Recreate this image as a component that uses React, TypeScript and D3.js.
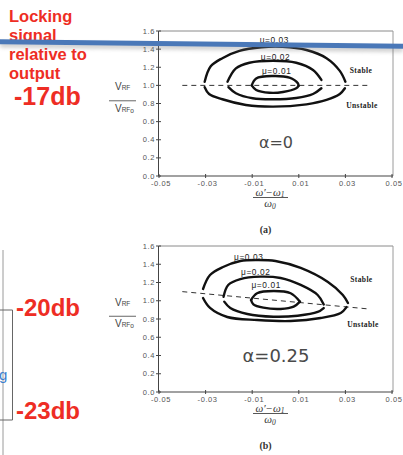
import React from "react";
import * as d3 from "d3";

type P = [number, number];

const yTicks = [0, 0.2, 0.4, 0.6, 0.8, 1.0, 1.2, 1.4, 1.6];
const xTicks = [-0.05, -0.03, -0.01, 0.01, 0.03, 0.05];
const xTickLabels = ["-0.05", "-0.03", "-0.01", "0.01", "0.03", "0.05"];
const muLabels = ["\u03bc=0.03", "\u03bc=0.02", "\u03bc=0.01"];

// panel (a), alpha = 0
const a03Stable: P[] = [[-0.0304, 1.04], [-0.0278, 1.21], [-0.0228, 1.30], [-0.0155, 1.38], [-0.006, 1.42], [0.003, 1.425], [0.0133, 1.39], [0.0219, 1.30], [0.0276, 1.16], [0.030, 1.04]];
const a03Unstable: P[] = [[-0.0304, 0.98], [-0.0285, 0.905], [-0.0228, 0.847], [-0.0127, 0.784], [-0.001, 0.765], [0.0133, 0.791], [0.0219, 0.839], [0.0276, 0.905], [0.0298, 0.968]];
const a02Stable: P[] = [[-0.0206, 1.04], [-0.017, 1.188], [-0.0112, 1.25], [-0.001, 1.272], [0.0089, 1.25], [0.0161, 1.17], [0.0197, 1.06]];
const a02Unstable: P[] = [[-0.0202, 0.98], [-0.017, 0.913], [-0.0098, 0.858], [-0.001, 0.847], [0.0089, 0.861], [0.0161, 0.905], [0.0197, 0.968]];
const a01Stable: P[] = [[-0.0102, 1.0], [-0.0083, 1.077], [-0.001, 1.103], [0.006, 1.085], [0.0096, 1.023], [0.0099, 0.995]];
const a01Unstable: P[] = [[0.0099, 0.995], [0.0089, 0.968], [0.0032, 0.927], [-0.0026, 0.919], [-0.0083, 0.949], [-0.0102, 1.0]];
const aDashed: P[] = [[-0.04, 1.0], [0.04, 1.0]];

// panel (b), alpha = 0.25
const b03Stable: P[] = [[-0.0311, 1.129], [-0.0281, 1.282], [-0.0225, 1.370], [-0.0151, 1.436], [-0.0078, 1.447], [0.0, 1.436], [0.0108, 1.359], [0.0225, 1.205], [0.0289, 1.063], [0.0311, 0.975]];
const b03Unstable: P[] = [[0.0305, 0.93], [0.028, 0.866], [0.0194, 0.811], [0.0065, 0.778], [-0.0078, 0.789], [-0.0207, 0.822], [-0.0281, 0.921], [-0.0311, 1.03]];
const b02Stable: P[] = [[-0.0223, 1.044], [-0.0203, 1.173], [-0.0151, 1.238], [-0.0065, 1.264], [0.0022, 1.249], [0.0108, 1.173], [0.0181, 1.063], [0.0207, 0.96]];
const b02Unstable: P[] = [[0.0207, 0.92], [0.0181, 0.877], [0.0095, 0.836], [-0.0009, 0.825], [-0.0121, 0.855], [-0.0194, 0.921], [-0.022, 0.99]];
const b01Stable: P[] = [[-0.0105, 1.008], [-0.0079, 1.082], [-0.0007, 1.107], [0.0065, 1.082], [0.0105, 0.99]];
const b01Unstable: P[] = [[0.0105, 0.99], [0.0078, 0.935], [0.0022, 0.91], [-0.0052, 0.924], [-0.0095, 0.961], [-0.0105, 1.008]];
const bDashed: P[] = [[-0.04, 1.10], [0.04, 0.91]];

const annotLines = ["Locking", "signal", "relative to", "output"];
const dbLabels = ["-17db", "-20db", "-23db"];

const x = d3.scaleLinear().domain([-0.05, 0.05]).range([159, 392]);

interface PanelProps {
  y0: number;
  y1: number;
  curves: P[][];
  dashed: P[];
  alpha: string;
  alphaSize: number;
  alphaY: number;
  tag: string;
  muPos: P[];
  stableY: number;
  unstableY: number;
  labelShift: number;
}

function Panel(p: PanelProps) {
  const y = d3.scaleLinear().domain([0, 1.6]).range([p.y0, p.y1]);
  const line = d3
    .line<P>()
    .x((d) => x(d[0]))
    .y((d) => y(d[1]))
    .curve(d3.curveCatmullRom.alpha(0.5));
  const straight = d3
    .line<P>()
    .x((d) => x(d[0]))
    .y((d) => y(d[1]));
  const xl = x(-0.05);
  const xr = x(0.05);
  const fx = 270;
  return (
    <g>
      {/* frame */}
      <line x1={xl} x2={xr + 1} y1={y(1.6)} y2={y(1.6)} stroke="#8a8a8a" strokeWidth={1} />
      <line x1={xr + 1} x2={xr + 1} y1={y(1.6)} y2={y(0)} stroke="#9a9a9a" strokeWidth={1} />
      {/* axes */}
      <line x1={xl - 0.5} x2={xl - 0.5} y1={y(1.6)} y2={y(0)} stroke="#444" strokeWidth={1} />
      <line x1={xl - 0.5} x2={xr + 1} y1={y(0)} y2={y(0)} stroke="#444" strokeWidth={1.2} />
      {yTicks.map((t) => (
        <g key={"y" + t}>
          <line x1={xl - 3} x2={xl + 2} y1={y(t)} y2={y(t)} stroke="#444" strokeWidth={1} />
          <text
            x={xl - 4}
            y={y(t) + 2.6}
            textAnchor="end"
            fontSize={7.5}
            letterSpacing={0.6}
            fill="#555"
            fontFamily="Liberation Sans, Arial, sans-serif"
          >
            {t.toFixed(1)}
          </text>
        </g>
      ))}
      {xTicks.map((t, i) => (
        <g key={"x" + t}>
          <line x1={x(t)} x2={x(t)} y1={y(0) - 2} y2={y(0) + 2} stroke="#444" strokeWidth={1} />
          <text
            x={x(t) + 2}
            y={y(0) + 9.5}
            textAnchor="middle"
            fontSize={7.5}
            letterSpacing={0.6}
            fill="#555"
            fontFamily="Liberation Sans, Arial, sans-serif"
          >
            {xTickLabels[i]}
          </text>
        </g>
      ))}
      {/* dashed reference */}
      <path d={straight(p.dashed) || ""} fill="none" stroke="#333" strokeWidth={1} strokeDasharray="5,4" />
      {/* curves */}
      {p.curves.map((c, i) => (
        <path key={i} d={line(c) || ""} fill="none" stroke="#111" strokeWidth={2.4} strokeLinecap="round" />
      ))}
      {/* mu labels */}
      {muLabels.map((m, i) => (
        <text
          key={m}
          x={x(p.muPos[i][0])}
          y={y(p.muPos[i][1])}
          textAnchor="middle"
          fontSize={8.3}
          letterSpacing={0.6}
          fill="#222"
          fontFamily="Liberation Sans, Arial, sans-serif"
        >
          {m}
        </text>
      ))}
      <text x={361 + p.labelShift} y={p.stableY} textAnchor="middle" fontSize={7.5} fontWeight="bold" letterSpacing={0.4} fill="#222" fontFamily="Liberation Serif, Times New Roman, serif">
        Stable
      </text>
      <text x={362 + p.labelShift * 2.5} y={p.unstableY} textAnchor="middle" fontSize={7.5} fontWeight="bold" letterSpacing={0.4} fill="#222" fontFamily="Liberation Serif, Times New Roman, serif">
        Unstable
      </text>
      {/* alpha */}
      <text x={x(0.0002)} y={p.alphaY} textAnchor="middle" fontSize={p.alphaSize} fill="#4a4a4a" fontFamily="DejaVu Sans, sans-serif">
        {p.alpha}
      </text>
      {/* x axis label fraction */}
      <text x={fx} y={y(0) + 19.5} textAnchor="middle" fontSize={11} fontStyle="italic" fill="#333" fontFamily="Liberation Serif, serif">
        {"\u03c9\u2032\u2212\u03c9"}
        <tspan fontSize={7.5} dy={1.5}>1</tspan>
      </text>
      <line x1={fx - 17} x2={fx + 18} y1={y(0) + 21.5} y2={y(0) + 21.5} stroke="#444" strokeWidth={0.9} />
      <text x={fx} y={y(0) + 31} textAnchor="middle" fontSize={11} fontStyle="italic" fill="#333" fontFamily="Liberation Serif, serif">
        {"\u03c9"}
        <tspan fontSize={7.5} dy={1.5}>0</tspan>
      </text>
      <text x={265.5} y={y(0) + 57} textAnchor="middle" fontSize={10} fontWeight="bold" fill="#333" fontFamily="Liberation Serif, serif">
        {p.tag}
      </text>
      {/* y axis label */}
      <text x={115} y={y(0.88) - 6} fontSize={10} fill="#444" fontFamily="Liberation Sans, Arial, sans-serif">
        V<tspan fontSize={6.5}>RF</tspan>
      </text>
      <line x1={109} x2={136} y1={y(0.83)} y2={y(0.83)} stroke="#555" strokeWidth={0.9} />
      <text x={115} y={y(0.83) + 11} fontSize={10} fill="#444" fontFamily="Liberation Sans, Arial, sans-serif">
        V<tspan fontSize={6.5}>RF</tspan>
        <tspan fontSize={6.5} dy={1}>o</tspan>
      </text>
    </g>
  );
}

export default function App() {
  const red = "#ee2d24";
  return (
    <svg
      width={403}
      height={455}
      viewBox="0 0 403 455"
      style={{ position: "fixed", left: 0, top: 0, background: "#fff", display: "block" }}
    >
      <defs>
        <filter id="shadow" x="-10%" y="-200%" width="120%" height="500%">
          <feGaussianBlur stdDeviation="2.2" />
        </filter>
      </defs>
      <rect x={0} y={0} width={403} height={455} fill="#fff" />

      <Panel
        y0={176}
        y1={31}
        curves={[a03Stable, a03Unstable, a02Stable, a02Unstable, a01Stable, a01Unstable]}
        dashed={aDashed}
        alpha={"\u03b1=0"}
        alphaSize={16}
        alphaY={148}
        tag="(a)"
        muPos={[[-0.0005, 1.47], [0.0, 1.28], [0.0005, 1.13]]}
        stableY={73}
        unstableY={108}
        labelShift={0}
      />
      <Panel
        y0={392}
        y1={246}
        curves={[b03Stable, b03Unstable, b02Stable, b02Unstable, b01Stable, b01Unstable]}
        dashed={bDashed}
        alpha={"\u03b1=0.25"}
        alphaSize={18}
        alphaY={362}
        tag="(b)"
        muPos={[[-0.0115, 1.45], [-0.0085, 1.28], [-0.004, 1.14]]}
        stableY={282}
        unstableY={327}
        labelShift={0.4}
      />

      {/* left-side slide elements */}
      <line x1={3} x2={3} y1={250} y2={455} stroke="#9a9a9a" strokeWidth={1} />
      <polyline points="0,310 12.5,310 12.5,420 0,420" fill="none" stroke="#666" strokeWidth={1} />
      <text x={-1} y={380} fontSize={15} fill="#3b7fcf" fontFamily="Liberation Sans, Arial, sans-serif">
        g
      </text>

      {annotLines.map((t, i) => (
        <text key={t} x={9} y={21.5 + i * 19} fontSize={16.5} fontWeight="bold" fill={red} fontFamily="Liberation Sans, Arial, sans-serif">
          {t}
        </text>
      ))}
      <text x={14} y={105} fontSize={25} fontWeight="bold" fill={red} fontFamily="Liberation Sans, Arial, sans-serif">
        {dbLabels[0]}
      </text>
      <text x={16} y={316} fontSize={24} fontWeight="bold" fill={red} fontFamily="Liberation Sans, Arial, sans-serif">
        {dbLabels[1]}
      </text>
      <text x={16} y={419} fontSize={24} fontWeight="bold" fill={red} fontFamily="Liberation Sans, Arial, sans-serif">
        {dbLabels[2]}
      </text>

      {/* blue overlay line with soft shadow */}
      <line x1={0} y1={45} x2={403} y2={49.5} stroke="#777" strokeWidth={4} opacity={0.45} filter="url(#shadow)" />
      <line x1={0} y1={41.8} x2={403} y2={46.2} stroke="#4a78b8" strokeWidth={5} />
    </svg>
  );
}
